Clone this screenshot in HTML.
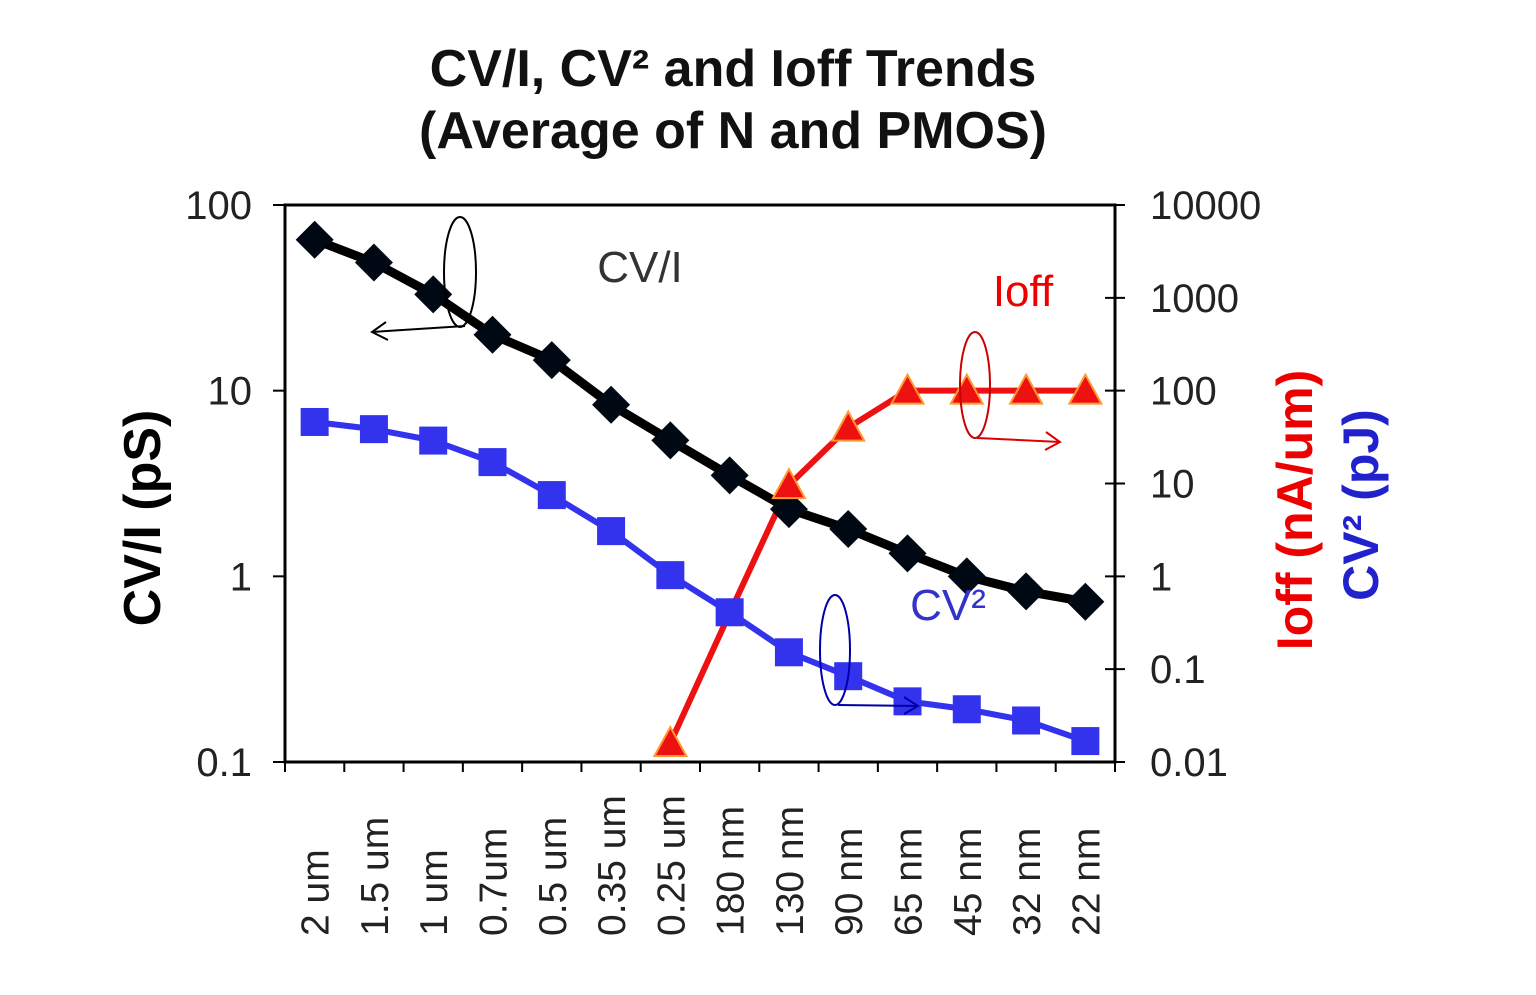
<!DOCTYPE html>
<html><head><meta charset="utf-8"><style>
html,body{margin:0;padding:0;background:#fff;}
svg{display:block;font-family:"Liberation Sans",Arial,sans-serif;}
</style></head><body>
<svg id="chart" width="1536" height="995" viewBox="0 0 1536 995">
  <g font-weight="bold" font-size="52" text-anchor="middle" fill="#111">
    <text x="733" y="86">CV/I, CV² and Ioff Trends</text>
    <text x="733" y="148">(Average of N and PMOS)</text>
  </g>
  <rect x="285" y="205" width="830" height="557" fill="none" stroke="#000" stroke-width="3"/>
  <g id="axes"></g>
  <g id="series"></g>
  <g fill="none" stroke-width="2">
    <ellipse cx="460" cy="272" rx="16" ry="55" stroke="#000"/>
    <path d="M465 326 L372 332 M386 322 L372 332 L388 340" stroke="#000"/>
    <ellipse cx="975" cy="385" rx="15" ry="53" stroke="#c00"/>
    <path d="M977 438 L1060 442 M1046 432 L1060 442 L1045 450" stroke="#d00"/>
    <ellipse cx="835" cy="650" rx="15" ry="55" stroke="#00a"/>
    <path d="M838 705 L918 706 M904 697 L918 706 L904 714" stroke="#00a"/>
  </g>
  <text x="640" y="282" font-size="44" text-anchor="middle" fill="#333">CV/I</text>
  <text x="1023" y="306" font-size="44" text-anchor="middle" fill="#e00">Ioff</text>
  <text x="948" y="620" font-size="44" text-anchor="middle" fill="#33c">CV²</text>
  <text transform="translate(160,518) rotate(-90)" font-size="52" font-weight="bold" text-anchor="middle" fill="#000">CV/I (pS)</text>
  <text transform="translate(1312,510) rotate(-90)" font-size="50" font-weight="bold" text-anchor="middle" fill="#e00">Ioff (nA/um)</text>
  <text transform="translate(1378,505) rotate(-90)" font-size="50" font-weight="bold" text-anchor="middle" fill="#22c">CV² (pJ)</text>
</svg>
<script>
const categories = ["2 um","1.5 um","1 um","0.7um","0.5 um","0.35 um","0.25 um","180 nm","130 nm","90 nm","65 nm","45 nm","32 nm","22 nm"];
const cviValues = [65,49,33,20,14.6,8.4,5.4,3.5,2.3,1.8,1.33,1.0,0.83,0.73];
const cv2Values = [46,38.5,29,17,7.5,3.07,1.03,0.41,0.152,0.084,0.045,0.037,0.028,0.0168];
const ioffValues = [null,null,null,null,null,null,0.016,0.4,9.6,40,100,100,100,100];
const leftTicks = [0.1,1,10,100];
const leftTickLabels = ["0.1","1","10","100"];
const rightTicks = [0.01,0.1,1,10,100,1000,10000];
const rightTickLabels = ["0.01","0.1","1","10","100","1000","10000"];

const NS="http://www.w3.org/2000/svg";
const X0=285,X1=1115,Y0=205,Y1=762;
const step=(X1-X0)/categories.length;
function xPos(i){return X0+step*(i+0.5);}
function yLeft(v){return Y1-(Math.log10(v)-Math.log10(0.1))/3*(Y1-Y0);}
function yRight(v){return Y1-(Math.log10(v)-Math.log10(0.01))/6*(Y1-Y0);}
function mk(tag,attrs,parent){const e=document.createElementNS(NS,tag);for(const k in attrs)e.setAttribute(k,attrs[k]);parent.appendChild(e);return e;}
const axes=document.getElementById('axes'), series=document.getElementById('series');

leftTicks.forEach((v,i)=>{const y=yLeft(v);
  const t=mk('line',{x1:X0-12,x2:X0,y1:y,y2:y,stroke:'#000','stroke-width':2},axes);
  
  
  const l=mk('text',{x:252,y:y+14,'font-size':40,'text-anchor':'end',fill:'#222'},axes);l.textContent=leftTickLabels[i];
  
  
});
rightTicks.forEach((v,i)=>{const y=yRight(v);
  const t=mk('line',{x1:X1-10,x2:X1+10,y1:y,y2:y,stroke:'#000','stroke-width':2},axes);
  
  
  const l=mk('text',{x:1150,y:y+14,'font-size':40,'text-anchor':'start',fill:'#222'},axes);l.textContent=rightTickLabels[i];
  
  
});
for(let i=0;i<=categories.length;i++){const x=X0+step*i;
  const t=mk('line',{x1:x,x2:x,y1:Y1,y2:Y1+10,stroke:'#000','stroke-width':2},axes);
  
  
}
categories.forEach((c,i)=>{const x=xPos(i);
  const l=mk('text',{transform:`translate(${x+14},936) rotate(-90)`,'font-size':39,'text-anchor':'start',fill:'#222'},axes);l.textContent=c;
  
  
});

function linePath(vals,yf){let d='';vals.forEach((v,i)=>{if(v==null)return;d+=(d?'L':'M')+xPos(i)+' '+yf(v)+' ';});return d;}
const rl=mk('path',{d:linePath(ioffValues,yRight),fill:'none',stroke:'#ee1111','stroke-width':6},series);


const bl=mk('path',{d:linePath(cv2Values,yRight),fill:'none',stroke:'#3333ee','stroke-width':6},series);


cv2Values.forEach((v,i)=>{const x=xPos(i),y=yRight(v);
  const r=mk('rect',{x:x-14,y:y-14,width:28,height:28,fill:'#3333ee'},series);
  
  
});
const kl=mk('path',{d:linePath(cviValues,yLeft),fill:'none',stroke:'#000','stroke-width':9},series);


cviValues.forEach((v,i)=>{const x=xPos(i),y=yLeft(v);
  const p=mk('polygon',{points:`${x},${y-19} ${x+19},${y} ${x},${y+19} ${x-19},${y}`,fill:'#000814'},series);
  
  
});
ioffValues.forEach((v,i)=>{if(v==null||i===7)return;const x=xPos(i),y=yRight(v);
  const p=mk('polygon',{points:`${x},${y-16} ${x+16},${y+13} ${x-16},${y+13}`,fill:'#ee1111',stroke:'#ff9a33','stroke-width':2},series);
  
  
});
</script>
</body></html>
